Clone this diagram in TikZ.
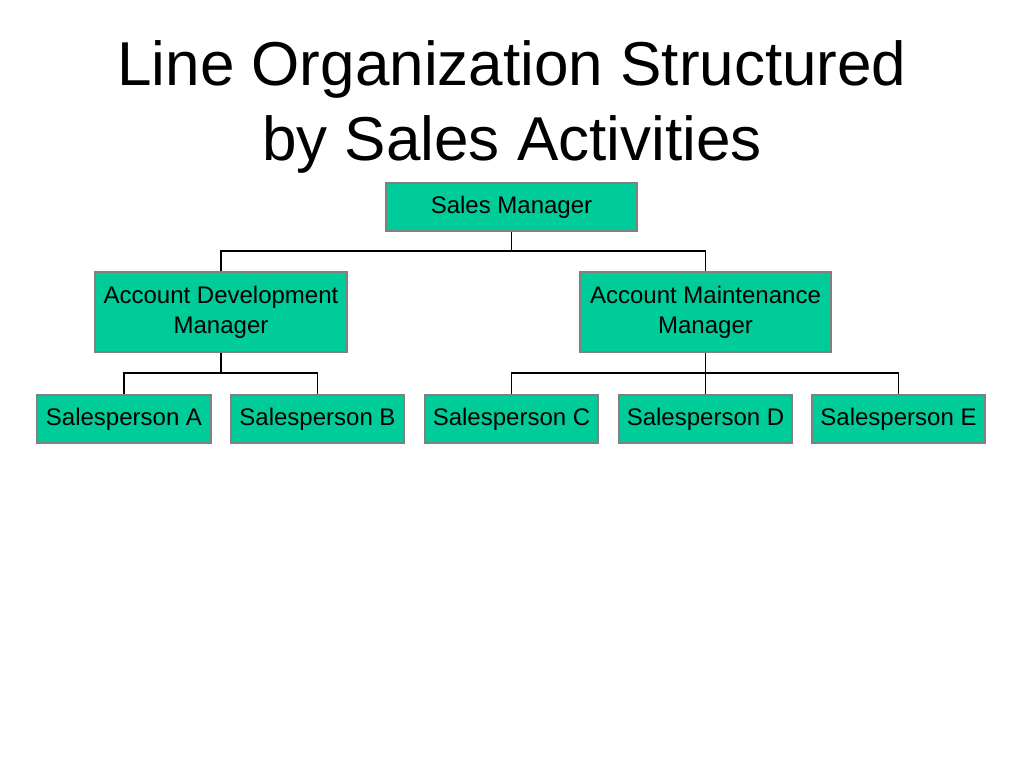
\documentclass[tikz,border=0pt]{standalone}
\usepackage{fontspec}
\setmainfont{Liberation Sans}
\definecolor{boxfill}{HTML}{00CC99}
\definecolor{boxedge}{HTML}{808080}
\begin{document}
\begin{tikzpicture}[x=1pt,y=-1pt,
  orgbox/.style={draw=boxedge,line width=1.5pt,fill=boxfill,rectangle,inner sep=0pt,align=center,
    font=\fontsize{24}{30}\selectfont},
  conn/.style={draw=black,line width=1.5pt}]
\useasboundingbox (0,0) rectangle (1024,768);
\node[font=\fontsize{62}{75}\selectfont,align=center,anchor=base] (title) at (512,160)
  {Line Organization Structured\\by Sales Activities};
\node[orgbox,minimum width=251pt,minimum height=48pt] (sm) at (511.5,207) {\raisebox{-2pt}{Sales Manager}};
\node[orgbox,minimum width=252pt,minimum height=80pt] (adm) at (221,312) {Account Development\\Manager};
\node[orgbox,minimum width=251pt,minimum height=80pt] (amm) at (705.5,312) {Account Maintenance\\Manager};
\node[orgbox,minimum width=174pt,minimum height=48pt] (a) at (124,419) {\raisebox{-2pt}{Salesperson A}};
\node[orgbox,minimum width=173pt,minimum height=48pt] (b) at (317.5,419) {\raisebox{-2pt}{Salesperson B}};
\node[orgbox,minimum width=173pt,minimum height=48pt] (c) at (511.5,419) {\raisebox{-2pt}{Salesperson C}};
\node[orgbox,minimum width=173pt,minimum height=48pt] (d) at (705.5,419) {\raisebox{-2pt}{Salesperson D}};
\node[orgbox,minimum width=173pt,minimum height=48pt] (e) at (898.5,419) {\raisebox{-2pt}{Salesperson E}};
\coordinate (j1) at (sm.south |- 0,251);
\coordinate (j2) at (adm.south |- 0,373);
\coordinate (j3) at (amm.south |- 0,373);
\draw[conn] (sm.south) -- (j1);
\draw[conn] (adm.north) |- (j1) -| (amm.north);
\draw[conn] (adm.south) -- (j2);
\draw[conn] (a.north) |- (j2) -| (b.north);
\draw[conn] (amm.south) -- (j3);
\draw[conn] (c.north) |- (j3) -| (e.north);
\draw[conn] (j3) -- (d.north);
\end{tikzpicture}
\end{document}
